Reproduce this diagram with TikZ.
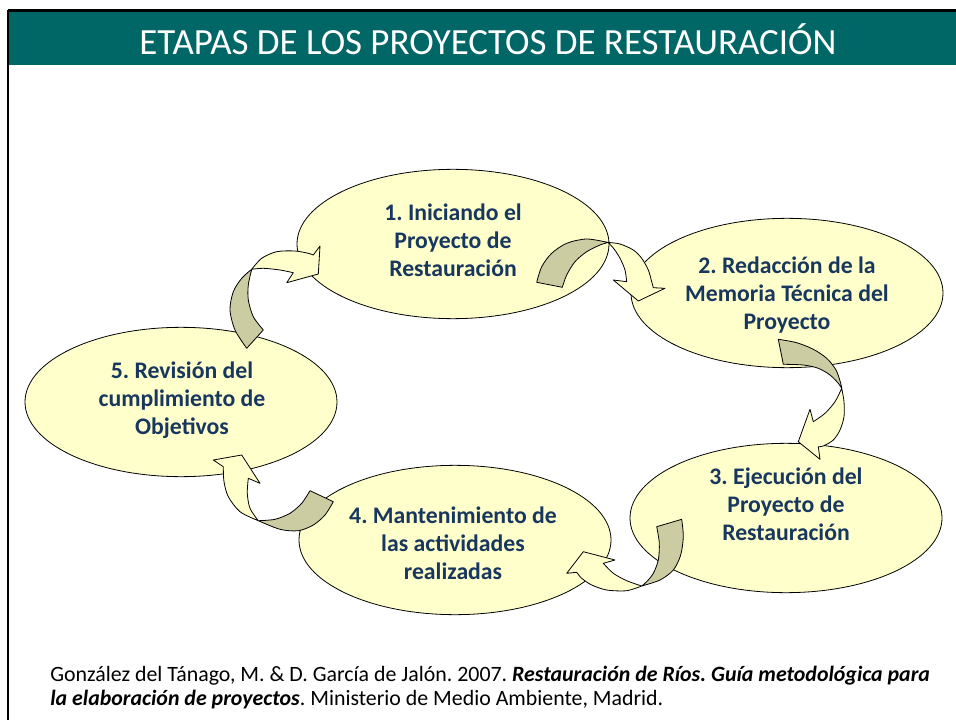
\documentclass[tikz,border=0pt]{standalone}
\usepackage{fontspec}
\setmainfont{Carlito}
\usetikzlibrary{shapes.geometric}
\definecolor{hdrteal}{RGB}{0,102,102}
\definecolor{ellfill}{RGB}{255,255,204}
\definecolor{backfill}{RGB}{204,204,163}
\definecolor{txtblue}{RGB}{23,55,94}
\frenchspacing
\tikzset{
  stage/.style={ellipse, draw=black, line width=0.6pt, fill=ellfill, minimum width=234pt, minimum height=112pt, inner sep=0pt},
  stagetext/.style={align=center, font=\bfseries\fontsize{17.8}{21}\selectfont, text=txtblue, inner sep=0pt},
  backpart/.style={fill=backfill, draw=black, line width=0.6pt, line join=round},
  frontpart/.style={fill=ellfill, draw=black, line width=0.6pt, line join=round},
  citetext/.style={font=\fontsize{16.4}{19}\selectfont, inner sep=0pt, anchor=base west}
}
\begin{document}
\begin{tikzpicture}[x=0.75pt,y=-0.75pt]
\useasboundingbox (0,0) rectangle (956,720);
\fill[white] (0,0) rectangle (956,720);
% header
\fill[hdrteal] (9,12) rectangle (956,65);
\draw[line width=2pt] (956,10.6) -- (7.5,10.6);
\draw[line width=1.5pt] (8.3,9.6) -- (8.3,720);
\node[text=white, font=\fontsize{27.7}{32}\selectfont, inner sep=0pt] (title) at (488,39) {ETAPAS DE LOS PROYECTOS DE RESTAURACIÓN};

% stages
\node[stage] (s1) at (453,244) {};
\node[stage] (s2) at (787,293) {};
\node[stage] (s3) at (786,518) {};
\node[stage] (s4) at (455,540) {};
\node[stage] (s5) at (181,402) {};

\node[stagetext] (t1) at (453,240) {1. Iniciando el\\Proyecto de\\Restauración};
\node[stagetext] (t2) at (787,295) {2. Redacción de la\\Memoria Técnica del\\Proyecto};
\node[stagetext] (t3) at (786,504) {3. Ejecución del\\Proyecto de\\Restauración};
\node[stagetext] (t4) at (453,543) {4. Mantenimiento de\\las actividades\\realizadas};
\node[stagetext] (t5) at (182,400) {5. Revisión del\\cumplimiento de\\Objetivos};

% arrow 1 -> 2
\filldraw[backpart] plot[smooth] coordinates {(536.7,282.3) (541.7,266.7) (551.7,253.3) (566.7,243.3) (586.7,239) (608.3,242.5)} -- plot[smooth] coordinates {(608.3,242.5) (600,245) (586.7,251.7) (575,261.7) (566.7,275) (562.3,287.3)} -- cycle;
\filldraw[frontpart] plot[smooth] coordinates {(608.3,242.5) (620,244) (633.3,250) (641.7,258.3) (648.3,270) (651.7,281.7) (653.3,287.7)} -- (665,288.3) -- (638.3,301) -- (613.3,280) -- plot[smooth] coordinates {(626.7,281.7) (625,270) (620,258.3) (614.3,249.3) (608.3,242.5)} -- cycle;

% arrow 2 -> 3
\filldraw[backpart] plot[smooth] coordinates {(778.3,339.3) (796.7,342.7) (813.3,349.3) (826.7,358.3) (836,370) (840.7,383.3) (841.7,388.3)} -- plot[smooth] coordinates {(841.7,388.3) (838.3,383.3) (830,375) (818.3,368.3) (803.3,365) (783.3,364.3)} -- cycle;
\filldraw[frontpart] plot[smooth] coordinates {(841.7,388.3) (844,401.7) (844,416.7) (840,430) (833.3,440) (823.3,446) (818.3,446.7)} -- (820,459.3) -- (798.3,441.7) -- (810,409.3) -- plot[smooth] coordinates {(813.3,421.7) (825,413.3) (835,401.7) (841.7,388.3)} -- cycle;

% arrow 3 -> 4
\filldraw[backpart] plot[smooth] coordinates {(656.7,526.7) (659.3,543.3) (658.3,560) (653.3,573.3) (646.7,581.7) (641.7,586)} -- plot[smooth] coordinates {(641.7,586) (660,580) (673.3,570) (680.7,555) (683.3,536.7) (681.7,519.3)} -- cycle;
\filldraw[frontpart] plot[smooth] coordinates {(641.7,586) (626.7,590.7) (606.7,590) (591.7,585) (581.7,578.3) (576.7,572.3)} -- (566.7,573.3) -- (583.3,551.7) -- (615,560) -- plot[smooth] coordinates {(603.3,563.3) (613.3,573.3) (626.7,580.7) (641.7,586)} -- cycle;

% arrow 4 -> 5
\filldraw[backpart] plot[smooth] coordinates {(310,490.7) (301.7,503.3) (290,513.3) (275,519.3) (258.3,520.7)} -- plot[smooth] coordinates {(258.3,520.7) (280,529.3) (298.3,530.7) (313.3,525) (325,515) (333.3,501.7)} -- cycle;
\filldraw[frontpart] plot[smooth] coordinates {(258.3,520.7) (240,511.7) (228.3,496.7) (224,481.7) (223.3,466.7)} -- (213.3,460) -- (241.7,455) -- (260,483.3) -- plot[smooth] coordinates {(248.3,478.3) (247.3,493.3) (250,508.3) (258.3,520.7)} -- cycle;

% arrow 5 -> 1
\filldraw[backpart] plot[smooth] coordinates {(246.7,348.3) (235,330) (230,310) (233.3,291.7) (241.7,278.3) (251.7,269.3)} -- plot[smooth] coordinates {(251.7,269.3) (248.3,285) (248.3,300) (253.3,316.7) (263.3,330)} -- cycle;
\filldraw[frontpart] plot[smooth] coordinates {(251.7,269.3) (261.7,258.3) (276.7,251.7) (295,251) (308.3,253.3) (313.3,255)} -- (320,246) -- (318.3,274) -- (286.7,282.7) -- plot[smooth] coordinates {(293.3,272.7) (280,270) (263.3,268.3) (251.7,269.3)} -- cycle;

% citation
\node[citetext] (c1) at (50,681) {González del Tánago, M. \& D. García de Jalón. 2007. \textbf{\textit{Restauración de Ríos. Guía metodológica para}}};
\node[citetext] (c2) at (50,705) {\textbf{\textit{la elaboración de proyectos}}. Ministerio de Medio Ambiente, Madrid.};
\end{tikzpicture}
\end{document}
